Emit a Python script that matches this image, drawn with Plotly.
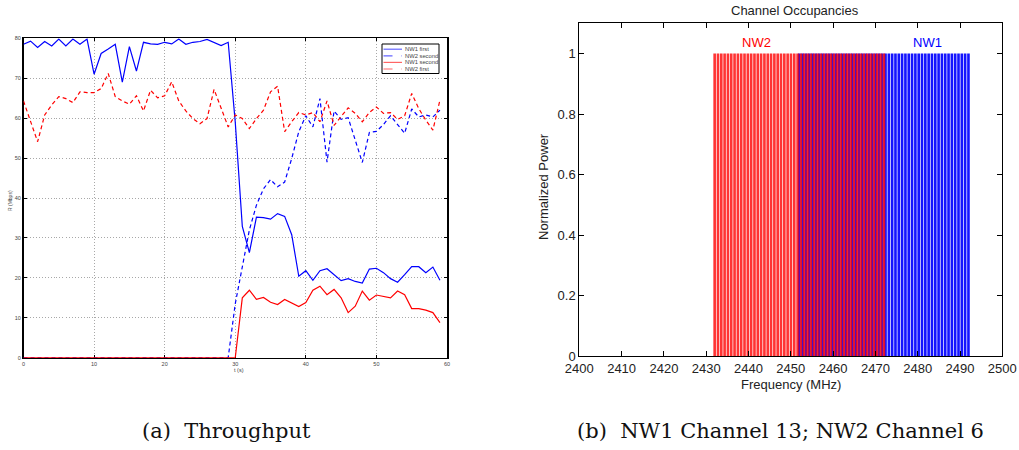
import plotly.graph_objects as go

# ---------------- data: (a) Throughput ----------------
t_sec = list(range(60))
nw1_first = [78.5, 79.3, 77.7, 79.2, 78.1, 79.8, 78.1, 79.8, 78.5, 79.8,
             71.0, 76.2, 77.3, 78.5, 69.0, 77.9, 71.8, 79.0, 78.6, 78.5,
             79.0, 78.6, 79.8, 78.5, 79.0, 79.2, 79.7, 79.0, 78.2, 79.0,
             59.0, 32.9, 26.3, 35.2, 35.1, 34.7, 36.1, 35.4, 30.8, 20.4,
             21.8, 19.4, 21.8, 22.3, 20.9, 19.3, 19.8, 19.1, 18.7, 22.2,
             22.4, 21.3, 19.8, 18.9, 20.8, 22.8, 22.8, 21.3, 22.7, 19.4]
nw2_second = [0, 0, 0, 0, 0, 0, 0, 0, 0, 0,
              0, 0, 0, 0, 0, 0, 0, 0, 0, 0,
              0, 0, 0, 0, 0, 0, 0, 0, 0, 0,
              13.5, 23.0, 32.0, 38.2, 42.3, 44.6, 42.8, 44.0, 49.9, 56.6,
              60.6, 57.8, 64.9, 49.0, 61.8, 59.7, 60.1, 54.5, 48.9, 56.4,
              56.7, 58.4, 60.6, 58.4, 56.2, 62.3, 60.3, 60.8, 60.3, 62.0]
nw1_second = [0, 0, 0, 0, 0, 0, 0, 0, 0, 0,
              0, 0, 0, 0, 0, 0, 0, 0, 0, 0,
              0, 0, 0, 0, 0, 0, 0, 0, 0, 0,
              0, 15.0, 16.9, 14.6, 15.1, 13.9, 13.3, 14.6, 13.8, 12.8,
              13.8, 16.9, 17.9, 15.8, 17.1, 15.0, 11.3, 12.9, 16.7, 14.4,
              15.7, 15.3, 15.0, 16.7, 15.8, 12.3, 12.3, 11.9, 11.3, 8.8]
nw2_first = [64.3, 59.2, 54.1, 60.8, 63.3, 65.4, 64.9, 63.9, 66.6, 66.4,
             66.4, 67.4, 71.2, 65.4, 64.3, 63.5, 65.6, 61.8, 67.0, 65.1,
             65.6, 69.1, 64.3, 61.8, 59.9, 58.6, 59.9, 67.2, 62.5, 57.8,
             60.8, 59.9, 57.4, 59.9, 62.0, 66.6, 68.0, 56.6, 59.1, 61.4,
             60.8, 61.4, 59.1, 64.3, 58.2, 60.3, 62.6, 61.2, 59.1, 61.4,
             62.8, 61.2, 61.4, 59.7, 60.6, 66.2, 62.4, 59.5, 57.0, 64.5]
series_names = ["NW1 first", "NW2 second", "NW1 second", "NW2 first"]

# ---------------- data: (b) Channel occupancies ----------------
nw1_band = [2452, 2492]   # MHz, occupied band of NW1
nw2_band = [2432, 2472]   # MHz, occupied band of NW2
n_tones = 52              # subcarriers drawn per band
nw_labels = ["NW1", "NW2"]
label_freqs = [2482.4, 2441.9]
label_level = 1.038


def tones(band):
    step = (band[1] - band[0]) / (n_tones - 1)
    return [band[0] + i * step for i in range(n_tones)]


nw1_freqs = tones(nw1_band)
nw2_freqs = tones(nw2_band)
nw1_power = [1.0] * n_tones
nw2_power = [1.0] * n_tones

W, H = 1019, 450


def px(x):
    return x / W


def py(y):
    return 1 - y / H


BLUE = "rgb(0,0,255)"
RED = "rgb(255,0,0)"

fig = go.Figure()

# ----- left chart lines -----
styles = [(nw1_first, BLUE, "solid"), (nw2_second, BLUE, "4px,3px"),
          (nw1_second, RED, "solid"), (nw2_first, RED, "4px,3px")]
for name, (vals, col, dash) in zip(series_names, styles):
    fig.add_trace(go.Scatter(x=t_sec, y=vals, mode="lines", name=name,
                             line=dict(color=col, width=1.2, dash=dash),
                             xaxis="x", yaxis="y", showlegend=False, cliponaxis=False))

# ----- right chart bars -----
fig.add_trace(go.Bar(x=nw1_freqs, y=nw1_power, width=0.62, xaxis="x2", yaxis="y2",
                     marker=dict(color=BLUE, line=dict(width=0)), opacity=0.92,
                     showlegend=False))
fig.add_trace(go.Bar(x=nw2_freqs, y=nw2_power, width=0.62, xaxis="x2", yaxis="y2",
                     marker=dict(color=RED, line=dict(width=0)), opacity=0.8,
                     showlegend=False))

small = dict(family="Liberation Sans, Arial", size=5.5, color="#444")
grid = dict(showgrid=True, gridcolor="#a8a8a8", griddash="1px,2px", gridwidth=1)
fig.update_layout(
    width=W, height=H, margin=dict(l=0, r=0, t=0, b=0, autoexpand=False),
    paper_bgcolor="white", plot_bgcolor="white", barmode="overlay",
    xaxis=dict(domain=[px(23.5), px(447)], range=[0, 60], tickvals=[0, 10, 20, 30, 40, 50, 60],
               **grid, automargin=False,
               showline=True, linecolor="black", linewidth=1.6, mirror="ticks",
               ticks="inside", ticklen=3, tickcolor="black", tickfont=small,
               zeroline=False, layer="below traces", anchor="y"),
    yaxis=dict(domain=[py(357.7), py(38.3)], range=[0, 80], tickvals=[0, 10, 20, 30, 40, 50, 60, 70, 80],
               **grid, automargin=False,
               showline=True, linecolor="black", linewidth=1.6, mirror="ticks",
               ticks="inside", ticklen=3, tickcolor="black", tickfont=small,
               zeroline=False, layer="below traces", anchor="x"),
    xaxis2=dict(domain=[px(579.3), px(1002.3)], range=[2400, 2500],
                tickvals=list(range(2400, 2501, 10)), automargin=False,
                showgrid=False, showline=True, linecolor="black", linewidth=1, mirror="ticks",
                ticks="inside", ticklen=5, tickcolor="black",
                tickfont=dict(family="Liberation Sans, Arial", size=13, color="#222"),
                zeroline=False, anchor="y2"),
    yaxis2=dict(domain=[py(356.3), py(23.3)], range=[0, 1.1], automargin=False,
                tickvals=[0, 0.2, 0.4, 0.6, 0.8, 1.0], ticktext=["0", "0.2", "0.4", "0.6", "0.8", "1"],
                showgrid=False, showline=True, linecolor="black", linewidth=1, mirror="ticks",
                ticks="inside", ticklen=5, tickcolor="black",
                tickfont=dict(family="Liberation Sans, Arial", size=13, color="#222"),
                zeroline=False, anchor="x2"),
)

ann = []
sans13 = dict(family="Liberation Sans, Arial", size=13, color="#222")
# right chart texts
ann.append(dict(text="Channel Occupancies", x=px(795), y=py(10), xref="paper", yref="paper",
                showarrow=False, font=sans13, xanchor="center", yanchor="middle"))
ann.append(dict(text="Frequency (MHz)", x=px(790.8), y=py(384), xref="paper", yref="paper",
                showarrow=False, font=sans13, xanchor="center", yanchor="middle"))
ann.append(dict(text="Normalized Power", x=px(543), y=py(187), xref="paper", yref="paper",
                showarrow=False, font=sans13, textangle=-90, xanchor="center", yanchor="middle"))
for lab, f, col in zip(nw_labels, label_freqs, [BLUE, RED]):
    ann.append(dict(text=lab, x=f, y=label_level, xref="x2", yref="y2", showarrow=False,
                    font=dict(family="Liberation Sans, Arial", size=13, color=col),
                    xanchor="center", yanchor="middle"))
# left chart axis titles
ann.append(dict(text="R (Mbps)", x=px(10), y=py(201), xref="paper", yref="paper",
                showarrow=False, font=dict(family="Liberation Sans, Arial", size=5, color="#444"),
                textangle=-90, xanchor="center", yanchor="middle"))
ann.append(dict(text="t (s)", x=px(239), y=py(370), xref="paper", yref="paper",
                showarrow=False, font=dict(family="Liberation Sans, Arial", size=5.5, color="#444"),
                xanchor="center", yanchor="middle"))
# captions
serif = dict(family="DejaVu Serif", size=21, color="#111")
ann.append(dict(text="(a)  Throughput", x=px(226), y=py(431), xref="paper", yref="paper",
                showarrow=False, font=serif, xanchor="center", yanchor="middle"))
ann.append(dict(text="(b)  NW1 Channel 13; NW2 Channel 6", x=px(780.5), y=py(431), xref="paper",
                yref="paper", showarrow=False, font=serif, xanchor="center", yanchor="middle"))

# manual legend for left chart
shapes = [dict(type="rect", xref="paper", yref="paper", x0=px(382), x1=px(439), y0=py(73.5), y1=py(44),
               line=dict(color="black", width=1), fillcolor="white", layer="above")]
leg_y = [49.2, 55.8, 62.4, 69.0]
for name, (vals, col, dash), yy in zip(series_names, styles, leg_y):
    shapes.append(dict(type="line", xref="paper", yref="paper", x0=px(383.5), x1=px(402), y0=py(yy), y1=py(yy),
                       line=dict(color=col, width=1.2, dash="dash" if dash != "solid" else "solid"),
                       layer="above", opacity=0.6))
    ann.append(dict(text=name, x=px(403), y=py(yy), xref="paper", yref="paper", showarrow=False,
                    font=dict(family="Liberation Sans, Arial", size=5.8, color="#444"),
                    xanchor="left", yanchor="middle"))

fig.update_layout(annotations=ann, shapes=shapes)
fig.write_html("out.html", config={"displayModeBar": False, "staticPlot": True},
               post_script="document.body.style.margin='0';document.body.style.padding='0';"
                           "document.body.style.overflow='hidden';")
